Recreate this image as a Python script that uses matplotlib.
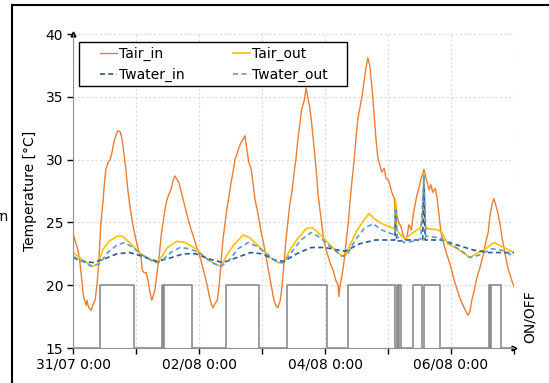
import numpy as np
import matplotlib
matplotlib.use('Agg')
import matplotlib.pyplot as plt
from matplotlib.lines import Line2D
from matplotlib.patches import Rectangle

# --- data (time in days from 31/07 0:00) ---
t_air_in = [0.00, 0.03, 0.08, 0.11, 0.14, 0.17, 0.21, 0.22, 0.25, 0.29, 0.32, 0.35, 0.38, 0.41, 0.44,
            0.48, 0.49, 0.52, 0.56, 0.59, 0.62, 0.65, 0.68, 0.71, 0.75, 0.78, 0.81, 0.84, 0.87, 0.90,
            0.95, 1.00, 1.05, 1.08, 1.10, 1.13, 1.16, 1.19, 1.22, 1.25, 1.27, 1.30, 1.33, 1.37, 1.40,
            1.43, 1.46, 1.49, 1.52, 1.56, 1.59, 1.62, 1.65, 1.68, 1.71, 1.75, 1.79, 1.84, 1.89, 1.94,
            1.98, 2.03, 2.08, 2.13, 2.16, 2.19, 2.22, 2.25, 2.29, 2.32, 2.35, 2.38, 2.41, 2.44, 2.48,
            2.51, 2.54, 2.57, 2.60, 2.63, 2.67, 2.70, 2.73, 2.76, 2.79, 2.83, 2.86, 2.89, 2.94, 2.98,
            3.03, 3.08, 3.13, 3.16, 3.19, 3.22, 3.25, 3.29, 3.32, 3.35, 3.38, 3.41, 3.44, 3.48, 3.51,
            3.54, 3.57, 3.60, 3.63, 3.67, 3.70, 3.73, 3.76, 3.79, 3.83, 3.86, 3.89, 3.94, 3.98, 4.03,
            4.08, 4.13, 4.17, 4.21, 4.22, 4.24, 4.27, 4.30, 4.33, 4.37, 4.40, 4.43, 4.46, 4.49, 4.52,
            4.56, 4.59, 4.62, 4.65, 4.68, 4.71, 4.75, 4.78, 4.81, 4.84, 4.87, 4.90, 4.94, 4.97, 5.00,
            5.03, 5.06, 5.10, 5.11, 5.13, 5.14, 5.17, 5.21, 5.24, 5.27, 5.30, 5.33, 5.37, 5.40, 5.43,
            5.46, 5.49, 5.52, 5.56, 5.57, 5.59, 5.62, 5.65, 5.68, 5.71, 5.75, 5.78, 5.81, 5.84, 5.87,
            5.90, 5.95, 6.00, 6.05, 6.10, 6.14, 6.19, 6.24, 6.27, 6.30, 6.33, 6.37, 6.41, 6.46, 6.51,
            6.56, 6.59, 6.62, 6.65, 6.68, 6.71, 6.75, 6.78, 6.81, 6.84, 6.87, 6.90, 6.94, 6.97, 7.00]
air_in = [24.2, 23.6, 22.8, 21.8, 20.4, 19.0, 18.4, 18.8, 18.2, 18.0, 18.5, 18.8, 20.0, 21.8, 24.8,
          26.8, 27.6, 29.2, 29.8, 30.0, 30.6, 31.4, 31.9, 32.3, 32.2, 31.6, 30.4, 29.2, 27.6, 26.4,
          24.8, 23.6, 22.6, 22.2, 21.2, 21.0, 21.0, 20.4, 19.5, 18.8, 19.1, 19.6, 20.8, 22.4, 24.0,
          25.0, 26.0, 26.8, 27.2, 27.7, 28.4, 28.7, 28.4, 28.2, 27.6, 26.8, 26.0, 25.0, 24.2, 23.4,
          22.8, 22.0, 21.0, 20.0, 19.2, 18.6, 18.2, 18.5, 18.8, 20.0, 21.8, 23.6, 24.8, 26.0, 27.2,
          28.2, 29.0, 30.0, 30.4, 30.9, 31.4, 31.6, 31.9, 30.8, 29.8, 29.2, 28.0, 26.8, 25.6, 24.4,
          23.2, 21.8, 20.4, 19.6, 18.8, 18.4, 18.2, 18.8, 20.0, 21.8, 23.6, 25.0, 26.4, 27.6, 29.0,
          30.1, 31.6, 32.8, 34.0, 34.7, 35.7, 34.9, 34.1, 32.8, 30.8, 29.2, 27.2, 25.2, 23.6, 22.6,
          21.8, 21.2, 20.4, 20.0, 19.1, 20.0, 20.8, 21.8, 23.2, 25.0, 26.8, 28.4, 29.8, 31.6, 33.2,
          34.3, 35.1, 36.2, 37.3, 38.1, 37.5, 35.5, 33.6, 31.6, 30.1, 29.6, 29.0, 29.3, 28.5, 28.4,
          28.0, 27.4, 26.9, 26.0, 26.3, 25.6, 25.0, 24.6, 24.0, 23.6, 23.8, 24.8, 24.4, 25.6, 26.4,
          27.2, 27.7, 28.4, 29.0, 29.2, 28.8, 28.2, 27.6, 28.0, 27.4, 27.7, 26.9, 25.6, 24.2, 23.6,
          23.0, 22.2, 21.4, 20.4, 19.6, 19.0, 18.4, 17.9, 17.6, 17.9, 18.8, 19.6, 20.6, 21.4, 22.4,
          23.6, 24.2, 25.6, 26.4, 26.9, 26.4, 25.6, 24.8, 23.8, 23.0, 22.2, 21.4, 20.8, 20.3, 19.9]

t_air_out = [0.00, 0.16, 0.30, 0.40, 0.47, 0.57, 0.70, 0.78, 0.90, 1.05, 1.20, 1.33, 1.40, 1.50, 1.65,
             1.78, 1.95, 2.10, 2.25, 2.35, 2.43, 2.55, 2.70, 2.80, 2.95, 3.10, 3.25, 3.35, 3.42, 3.55,
             3.70, 3.80, 3.95, 4.10, 4.25, 4.32, 4.38, 4.50, 4.62, 4.70, 4.78, 4.90, 5.05, 5.11, 5.12,
             5.14, 5.20, 5.27, 5.40, 5.52, 5.55, 5.57, 5.59, 5.62, 5.80, 5.85, 5.95, 6.10, 6.30, 6.40,
             6.55, 6.68, 6.80, 7.00]
air_out = [22.6, 22.0, 21.5, 21.7, 22.8, 23.5, 23.9, 23.9, 23.4, 22.6, 22.1, 21.8, 22.2, 23.0, 23.5,
           23.4, 22.9, 22.2, 21.7, 21.5, 22.3, 23.2, 24.0, 23.8, 23.1, 22.3, 21.8, 21.8, 22.6, 23.6,
           24.5, 24.6, 23.9, 23.1, 22.4, 22.3, 23.0, 24.3, 25.2, 25.7, 25.3, 24.9, 24.6, 24.5, 26.8,
           24.4, 24.0, 23.7, 24.2, 24.6, 25.5, 28.9, 24.8, 24.5, 24.4, 24.2, 23.3, 22.9, 22.2, 22.5,
           22.9, 23.4, 23.1, 22.6]

t_water_in = [0.00, 0.15, 0.32, 0.50, 0.70, 0.90, 1.10, 1.33, 1.50, 1.75, 1.95, 2.15, 2.38, 2.60, 2.82,
              3.00, 3.20, 3.35, 3.55, 3.78, 4.00, 4.20, 4.32, 4.55, 4.80, 5.05, 5.11, 5.12, 5.14, 5.30,
              5.55, 5.57, 5.59, 5.85, 6.10, 6.35, 6.60, 6.85, 7.00]
water_in = [22.2, 21.9, 21.8, 22.1, 22.5, 22.6, 22.3, 21.9, 22.1, 22.5, 22.5, 22.1, 21.8, 22.2, 22.6,
            22.5, 22.0, 21.9, 22.5, 23.0, 23.0, 22.8, 22.7, 23.3, 23.6, 23.6, 23.6, 26.0, 23.5, 23.6,
            23.6, 28.0, 23.6, 23.6, 23.2, 22.8, 22.6, 22.6, 22.6]

t_water_out = [0.00, 0.15, 0.30, 0.42, 0.55, 0.70, 0.82, 0.95, 1.10, 1.30, 1.40, 1.55, 1.70, 1.85, 2.00,
               2.20, 2.35, 2.48, 2.62, 2.78, 2.92, 3.10, 3.25, 3.35, 3.48, 3.62, 3.78, 3.92, 4.10, 4.27,
               4.35, 4.48, 4.62, 4.76, 4.90, 5.05, 5.11, 5.12, 5.14, 5.25, 5.40, 5.52, 5.57, 5.60, 5.80,
               5.95, 6.15, 6.30, 6.45, 6.65, 6.80, 7.00]
water_out = [22.3, 21.9, 21.5, 21.7, 22.6, 23.2, 23.4, 23.0, 22.4, 21.8, 21.9, 22.6, 23.0, 22.9, 22.6,
             21.8, 21.5, 22.0, 22.9, 23.4, 23.1, 22.4, 21.8, 21.8, 22.7, 23.6, 24.2, 23.8, 23.0, 22.3,
             22.4, 23.6, 24.5, 24.9, 24.4, 24.1, 24.0, 26.1, 23.9, 23.4, 23.5, 23.7, 28.7, 23.9, 23.8,
             23.4, 22.8, 22.2, 22.4, 22.9, 22.8, 22.3]

t_onoff = [0.00, 0.43, 0.97, 1.41, 1.425, 1.44, 1.89, 2.43, 2.95, 3.40, 4.03, 4.37, 5.11, 5.14, 5.155,
           5.17, 5.21, 5.40, 5.54, 5.57, 5.83, 6.60, 6.615, 6.63, 6.79, 7.00]
onoff = [0, 1, 0, 1, 0, 1, 0, 1, 0, 1, 0, 1, 0, 1, 0,
         1, 0, 1, 0, 1, 0, 1, 0, 1, 0, 0]

xtick_days = [0, 2, 4, 6]
xtick_labels = ['31/07 0:00', '02/08 0:00', '04/08 0:00', '06/08 0:00']
yticks = [15, 20, 25, 30, 35, 40]

c_air_in = '#ED7D31'
c_air_out = '#FFC000'
c_water_in = '#2F5597'
c_water_out = '#5B9BD5'
c_onoff = '#8C8C8C'

W, H = 549, 383

plt.rcParams['font.family'] = ['DejaVu Sans']
fig = plt.figure(figsize=(W / 100, H / 100), dpi=100)
ax = fig.add_axes([73 / W, 1 - 348 / H, 441 / W, 314 / H])

ax.plot(t_air_in, air_in, color=c_air_in, lw=1.0, label='Tair_in')
ax.plot(t_air_out, air_out, color=c_air_out, lw=1.2, label='Tair_out')
ax.plot(t_water_in, water_in, color=c_water_in, lw=1.2, ls=(0, (3, 2)), label='Twater_in')
ax.plot(t_water_out, water_out, color=c_water_out, lw=1.2, ls=(0, (3, 2)), label='Twater_out')

ax.set_xlim(0, 7)
ax.set_ylim(15, 40)
ax.set_yticks(yticks)
ax.set_xticks(xtick_days)
ax.set_xticklabels(xtick_labels)
ax.set_xticks(range(8), minor=True)
ax.tick_params(axis='both', which='both', direction='out', length=4, width=1, color='black',
               labelsize=10, pad=3)
ax.grid(True, which='both', color='#D9D9D9', ls=(0, (2, 2)), lw=0.8)
ax.set_axisbelow(True)
for s in ['top', 'right']:
    ax.spines[s].set_visible(False)
for s in ['left', 'bottom']:
    ax.spines[s].set_color('#909090')
ax.set_ylabel('Temperature [°C]', fontsize=10, labelpad=6)

# axis end arrows
ax.plot([0], [1], marker='^', ms=3.5, color='black', transform=ax.transAxes, clip_on=False)
ax.plot([1], [0], marker='>', ms=3.5, color='black', transform=ax.transAxes, clip_on=False)

# secondary axis for ON/OFF
ax2 = ax.twinx()
ax2.step(t_onoff, onoff, where='post', color=c_onoff, lw=1.2)
ax2.set_ylim(0, 5)
ax2.set_yticks([])
for s in ax2.spines.values():
    s.set_visible(False)
fig.text(530 / W, 1 - 317 / H, 'ON/OFF', rotation=90, ha='center', va='center', fontsize=10)

# legend: box drawn separately so its size matches the reference
box = Rectangle((79 / W, 1 - 86 / H), 268 / W, 44 / H, transform=fig.transFigure,
                facecolor='white', edgecolor='black', lw=1.0, zorder=4, clip_on=False)
ax2.add_patch(box)
h, l = ax.get_legend_handles_labels()
order = [0, 2, 1, 3]
leg = ax2.legend([h[i] for i in order], [l[i] for i in order], ncol=2, loc='upper left',
                 bbox_to_anchor=(100 / W, 1 - 47 / H), bbox_transform=fig.transFigure,
                 borderaxespad=0, borderpad=0, fontsize=10, frameon=False,
                 handlelength=1.25, handletextpad=0.1, columnspacing=3.5, labelspacing=0.5)
leg.set_zorder(5)

# outer frame and clipped label at left edge
fig.add_artist(Line2D([12 / W, 12 / W], [0, 1 - 5 / H], color='black', lw=1.5))
fig.add_artist(Line2D([12 / W, 1], [1 - 5 / H, 1 - 5 / H], color='black', lw=1.5))
fig.text(9 / W, 1 - 217 / H, 'rn', ha='right', va='center', fontsize=10)

fig.savefig('out.png', dpi=100)
